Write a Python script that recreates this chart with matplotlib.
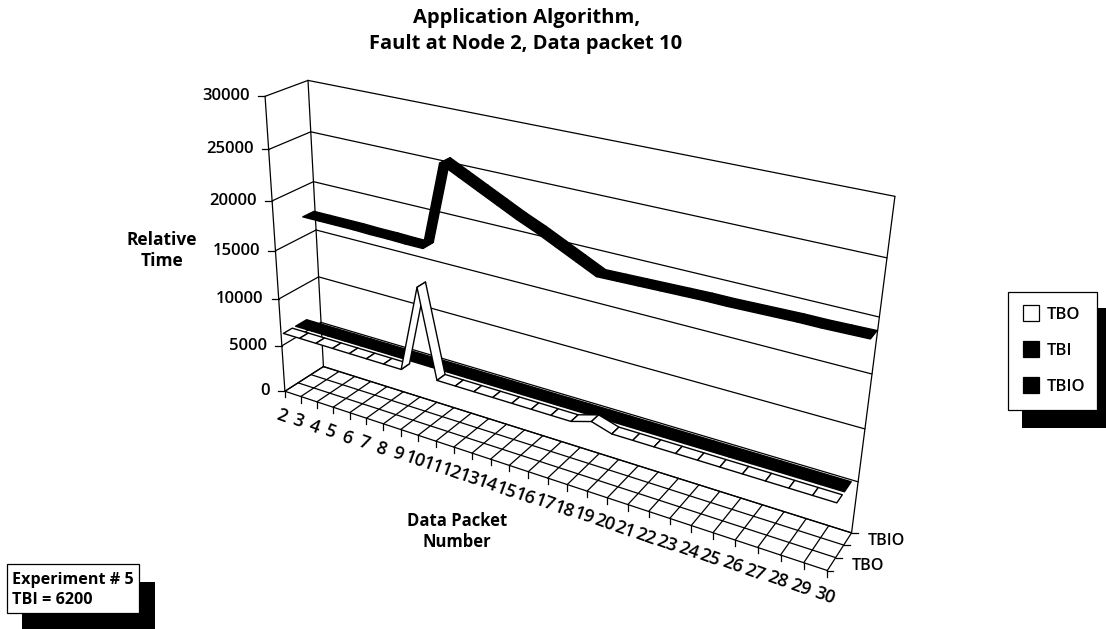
import numpy as np
import matplotlib
matplotlib.use('Agg')
import matplotlib.pyplot as plt
from matplotlib.patches import Rectangle, Polygon

plt.rcParams['font.family'] = ['Open Sans', 'DejaVu Sans']

# chart values
packets = list(range(2, 31))
tbo = [6200, 6200, 6200, 6200, 6200, 6200, 6200, 6200, 15000, 6200, 6200, 6200, 6200, 6200,
       6200, 6200, 6200, 6800, 6200, 6200, 6200, 6200, 6200, 6200, 6200, 6200, 6200, 6200, 6200]
tbi = [6200, 6200, 6200, 6200, 6200, 6200, 6200, 6200, 6200, 6200, 6200, 6200, 6200, 6200,
       6200, 6200, 6200, 6200, 6200, 6200, 6200, 6200, 6200, 6200, 6200, 6200, 6200, 6200, 6200]
tbio = [17000, 17000, 17000, 17000, 16950, 16950, 16900, 16900, 25500, 24600, 23700, 22800,
        21900, 21100, 20200, 19300, 18400, 18450, 18500, 18550, 18600, 18650, 18650, 18700,
        18750, 18800, 18800, 18850, 18900]
value_ticks = [0, 5000, 10000, 15000, 20000, 25000, 30000]
series_names = ['TBO', 'TBI', 'TBIO']
series_values = [tbo, tbi, tbio]
ribbon_half = [0.11, 0.14, 0.14]
ymax = 30000

# box corners of the 3d chart, in picture pixels: (u, v, w) -> (x, y)
fit_pts = [
    (0, 0, 0, 285, 389), (0, 1, 0, 323, 367), (0, 0, 1, 265, 96), (0, 1, 1, 308, 81),
    (1, 0, 0, 827, 570), (1, 1, 0, 852, 532), (1, 1, 1, 895, 196),
    (8 / 28, 0, 0, 419, 437), (20 / 28, 0, 0, 648, 513),
]
rows = []
rhs = []
for u, v, w, x, y in fit_pts:
    rows.append([u, v, w, 1, 0, 0, 0, 0, -x * u, -x * v, -x * w])
    rhs.append(x)
    rows.append([0, 0, 0, 0, u, v, w, 1, -y * u, -y * v, -y * w])
    rhs.append(y)
m = np.linalg.lstsq(np.array(rows, float), np.array(rhs, float), rcond=None)[0]


def proj(p, depth, val):
    u = (p - 2) / 28
    w = val / ymax
    d = m[8] * u + m[9] * depth + m[10] * w + 1
    return ((m[0] * u + m[1] * depth + m[2] * w + m[3]) / d,
            (m[4] * u + m[5] * depth + m[6] * w + m[7]) / d)


def line3(ax, a, b, lw=0.9, z=1):
    pa = proj(*a)
    pb = proj(*b)
    ax.plot([pa[0], pb[0]], [pa[1], pb[1]], color='black', lw=lw, zorder=z, solid_capstyle='round')


fig = plt.figure(figsize=(11.06, 6.29), dpi=100)
ax = fig.add_axes([0, 0, 1, 1])
ax.set_xlim(0, 1106)
ax.set_ylim(629, 0)
ax.axis('off')

# walls
for val in value_ticks:
    line3(ax, (2, 0, val), (2, 1, val))
    line3(ax, (2, 1, val), (30, 1, val))
    x, y = proj(2, 0, val)
    ax.plot([x - 7, x], [y, y], color='black', lw=0.9)
    ax.text(x - 15, y, str(val), ha='right', va='center', fontsize=12, fontweight='semibold')
line3(ax, (2, 0, 0), (2, 0, ymax))
line3(ax, (2, 1, 0), (2, 1, ymax))
line3(ax, (30, 1, 0), (30, 1, ymax))

# floor
for p in packets:
    line3(ax, (p, 0, 0), (p, 1, 0))
    x, y = proj(p, 0, 0)
    ax.plot([x, x], [y, y + 6], color='black', lw=0.9)
    ax.text(x - 3, y + 25, str(p), ha='center', va='center', rotation=-20,
            rotation_mode='anchor', fontsize=13, fontweight='semibold')
for i in range(4):
    line3(ax, (2, i / 3, 0), (30, i / 3, 0))
    x, y = proj(30, i / 3, 0)
    ax.plot([x, x + 6], [y, y], color='black', lw=0.9)
for i, name in enumerate(series_names):
    if name != 'TBI':
        x, y = proj(30, (i + 0.5) / 3, 0)
        ax.text(x + 20, y + 2, name, ha='left', va='center', fontsize=11.5, fontweight='semibold')

# ribbons, back to front
for i in [2, 1, 0]:
    vals = series_values[i]
    front = (i + 0.5) / 3 - ribbon_half[i]
    back = (i + 0.5) / 3 + ribbon_half[i]
    fill = 'white' if series_names[i] == 'TBO' else 'black'
    for k in range(len(packets) - 1):
        quad = [proj(packets[k], front, vals[k]), proj(packets[k + 1], front, vals[k + 1]),
                proj(packets[k + 1], back, vals[k + 1]), proj(packets[k], back, vals[k])]
        ax.add_patch(Polygon(quad, closed=True, facecolor=fill, edgecolor='black', lw=1.0,
                             joinstyle='round', zorder=3 + (2 - i)))

# title and axis names
ax.text(527, 18, 'Application Algorithm,', ha='center', va='center', fontsize=14.5, fontweight='bold')
ax.text(526, 44, 'Fault at Node 2, Data packet 10', ha='center', va='center', fontsize=14.5, fontweight='bold')
ax.text(162, 240, 'Relative', ha='center', va='center', fontsize=12.5, fontweight='bold')
ax.text(162, 261, 'Time', ha='center', va='center', fontsize=12.5, fontweight='bold')
ax.text(457, 521, 'Data Packet', ha='center', va='center', fontsize=12, fontweight='bold')
ax.text(457, 542, 'Number', ha='center', va='center', fontsize=12, fontweight='bold')

# legend
ax.add_patch(Rectangle((1022, 308), 90, 120, facecolor='black', edgecolor='none', zorder=6))
ax.add_patch(Rectangle((1008, 292), 89, 118, facecolor='white', edgecolor='black', lw=0.9, zorder=7))
for name, sy, col in zip(series_names, [313, 349, 385], ['white', 'black', 'black']):
    ax.add_patch(Rectangle((1023, sy - 8), 16, 16, facecolor=col, edgecolor='black', lw=0.9, zorder=8))
    ax.text(1047, sy + 2, name, ha='left', va='center', fontsize=12, fontweight='semibold', zorder=8)

# note box
ax.add_patch(Rectangle((22, 582), 133, 47, facecolor='black', edgecolor='none', zorder=6))
ax.add_patch(Rectangle((7, 564), 132, 49, facecolor='white', edgecolor='black', lw=0.9, zorder=7))
ax.text(12, 580, 'Experiment # 5', ha='left', va='center', fontsize=11.6, fontweight='bold', zorder=8)
ax.text(12, 600, 'TBI = 6200', ha='left', va='center', fontsize=11.6, fontweight='bold', zorder=8)

fig.savefig('out.png', dpi=100)
